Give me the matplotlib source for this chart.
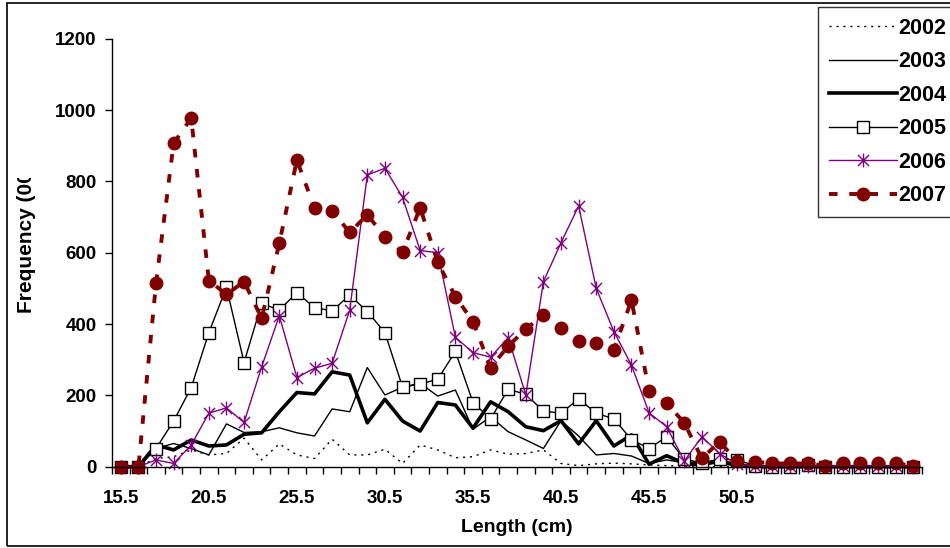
import matplotlib
matplotlib.use("Agg")
import matplotlib.pyplot as plt
from matplotlib.path import Path
from matplotlib.transforms import Bbox
from matplotlib.patches import Rectangle
import numpy as np

plt.rcParams['font.family'] = ['Liberation Sans', 'DejaVu Sans']

lengths = [15.5 + i for i in range(46)]
tick_labels = ["15.5", "20.5", "25.5", "30.5", "35.5", "40.5", "45.5", "50.5"]

y2002 = [0, 0, 23, 28, 47, 33, 37, 80, 19, 64, 33, 23, 77, 33, 33, 49, 9, 61, 47, 25,
         28, 47, 35, 37, 47, 9, 3, 8, 10, 8, 5, 3, 2, 0, 0, 0, 0, 0, 0, 0,
         0, 0, 0, 0, 0, 0]
y2003 = [0, 0, 51, 65, 51, 33, 120, 96, 98, 109, 95, 86, 162, 154, 278, 201, 223, 234, 198, 215,
         105, 140, 98, 75, 51, 129, 86, 33, 37, 30, 9, 19, 11, 14, 9, 2, 0, 0, 0, 0,
         0, 0, 0, 0, 0, 0]
y2004 = [0, 0, 61, 47, 75, 58, 61, 91, 95, 154, 208, 204, 266, 257, 123, 189, 128, 100, 180, 173,
         108, 182, 154, 112, 101, 129, 64, 129, 58, 89, 7, 31, 9, 5, 16, 5, 0, 0, 0, 0,
         0, 0, 0, 0, 0, 0]
y2005 = [0, 0, 51, 128, 222, 376, 503, 292, 458, 439, 488, 446, 437, 481, 435, 376, 223, 232, 245, 323,
         180, 134, 217, 203, 156, 150, 190, 150, 134, 76, 51, 84, 21, 11, 21, 19, 3, 0, 0, 5,
         0, 0, 0, 0, 0, 0]
y2006 = [0, 0, 19, 9, 61, 150, 165, 124, 280, 423, 250, 276, 290, 439, 818, 837, 755, 606, 600, 363,
         320, 307, 362, 201, 519, 628, 731, 500, 379, 285, 151, 112, 16, 84, 37, 7, 2, 2, 2, 2,
         2, 2, 2, 2, 2, 0]
y2007 = [0, 0, 514, 907, 977, 522, 483, 519, 416, 626, 860, 725, 717, 657, 706, 645, 601, 726, 573, 477,
         407, 278, 338, 386, 425, 388, 353, 348, 327, 467, 213, 178, 123, 23, 70, 16, 14, 9, 9, 9,
         3, 9, 9, 9, 9, 3]

W, H = 950, 548
fig = plt.figure(figsize=(W / 100, H / 100), dpi=100)
fig.patch.set_facecolor('white')

L, R, T, B = 112, 922, 38.7, 466.7
ax = fig.add_axes([L / W, 1 - B / H, (R - L) / W, (B - T) / H])

x = np.arange(len(lengths))

star = Path([(-1, -1), (1, 1), (-1, 1), (1, -1), (0, -1.25), (0, 1.25)],
            [Path.MOVETO, Path.LINETO, Path.MOVETO, Path.LINETO, Path.MOVETO, Path.LINETO])

l02, = ax.plot(x, y2002, color='black', lw=1.0, linestyle=(0, (1.5, 3.5)), label='2002')
l03, = ax.plot(x, y2003, color='black', lw=1.0, label='2003')
l04, = ax.plot(x, y2004, color='black', lw=2.6, label='2004')
l05, = ax.plot(x, y2005, color='black', lw=1.0, marker='s', ms=8.5, mfc='white',
               mec='black', mew=1.0, label='2005')
l06, = ax.plot(x, y2006, color='#800080', lw=1.0, marker=star, ms=10, mec='#800080',
               mew=1.0, label='2006')
l07, = ax.plot(x, y2007, color='#800000', lw=2.8, linestyle=(0, (2.2, 3.0)), marker='o',
               ms=9, mfc='#800000', mec='#800000', label='2007')

ax.set_xlim(-0.5, len(lengths) - 0.5)
ax.set_ylim(0, 1200)
ax.set_yticks(np.arange(0, 1201, 200))
ax.set_yticklabels([str(v) for v in range(0, 1201, 200)], fontsize=13.5, fontweight='bold')
ax.set_xticks(np.arange(0, 36, 5))
ax.set_xticklabels(tick_labels, fontsize=13.5, fontweight='bold')
ax.set_xticks(np.arange(-0.5, len(lengths), 1), minor=True)
ax.tick_params(axis='x', which='major', length=0, pad=17)
ax.tick_params(axis='x', which='minor', length=5, width=1, direction='out', color='black')
ax.tick_params(axis='y', which='major', length=5, width=1, direction='out', pad=6)
for s in ['top', 'right']:
    ax.spines[s].set_visible(False)
for s in ['left', 'bottom']:
    ax.spines[s].set_color('black')
    ax.spines[s].set_linewidth(1.0)
ax.set_facecolor('white')
for ln in ax.get_lines():
    ln.set_clip_on(False)

fig.text((L + R) / 2 / W, 1 - 527 / H, "Length (cm)", ha='center', va='center',
         fontsize=14, fontweight='bold')

t = fig.text(27 / W, 1 - 313 / H, "Frequency (000s)", rotation=90, ha='center',
             va='bottom', fontsize=15, fontweight='bold')
t.set_clip_box(Bbox.from_extents(0, 0, W, H - 178))
t.set_clip_on(True)

# outer chart border
fig.patches.append(Rectangle((7 / W, 1 - 546 / H), 1.2, (546 - 3) / H,
                             transform=fig.transFigure, fill=False, ec='black', lw=1.2))

leg = fig.legend(handles=[l02, l03, l04, l05, l06, l07], loc='upper left',
                 bbox_to_anchor=(818 / W, 1 - 7 / H), frameon=True, fancybox=False,
                 prop={'weight': 'bold', 'size': 15.5}, handlelength=3.15, handletextpad=0.1,
                 labelspacing=0.58, borderpad=0.5, borderaxespad=0, markerscale=1.0)
leg.get_frame().set_edgecolor('black')
leg.get_frame().set_linewidth(1.0)

fig.savefig('out.png', dpi=100)
